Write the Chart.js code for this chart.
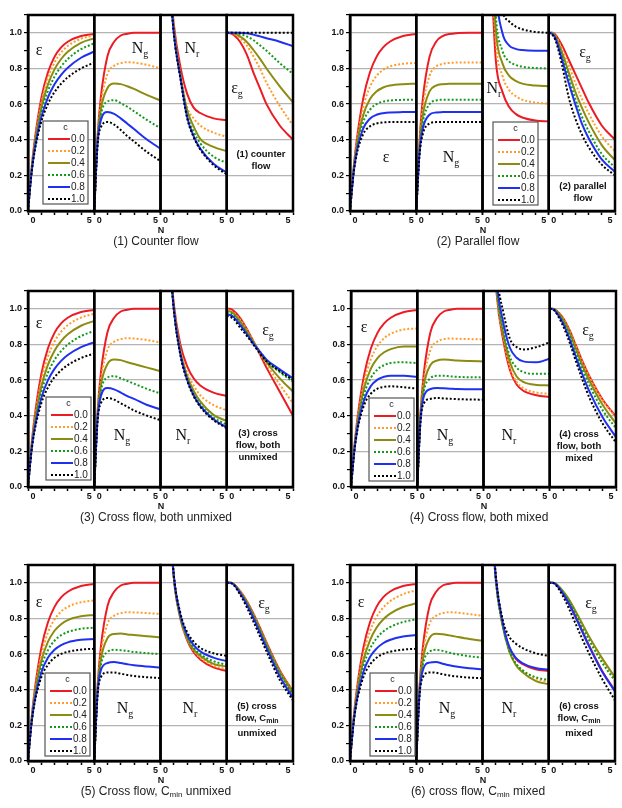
<!DOCTYPE html>
<html>
<head>
<meta charset="utf-8">
<title>Effectiveness and entropy generation numbers vs N</title>
<script src="https://cdn.jsdelivr.net/npm/chart.js@4.4.1/dist/chart.umd.min.js"></script>
<style>
  body { margin: 0; background: #fff; width: 622px; height: 808px; position: relative; overflow: hidden;
         font-family: "Liberation Sans", Arial, sans-serif; color: #111; }
  .panel { position: absolute; width: 300px; height: 232px; }
  .lab { position: absolute; transform: translate(-50%, -50%); white-space: nowrap; }
  .sym { font-family: "Liberation Serif", "Times New Roman", serif; font-size: 16px; }
  .sym sub { font-size: 10px; vertical-align: -4px; }
  .note { font-weight: bold; font-size: 9.5px; line-height: 12px; text-align: center; }
  .note sub { font-size: 7px; vertical-align: -2px; }
  .nlab { font-weight: bold; font-size: 9px; }
  .cap { font-size: 12px; color: #222; }
  .cap sub { font-size: 8px; vertical-align: -2px; }
</style>
</head>
<body>
<script>
const N = [0, 0.25, 0.5, 1, 1.5, 2, 2.5, 3, 4, 5];
const cLabels = ['0.0', '0.2', '0.4', '0.6', '0.8', '1.0'];

// (1) counter flow
const counterEps = [
  [0, .221, .393, .632, .777, .865, .918, .950, .982, .993],
  [0, .217, .381, .605, .744, .832, .889, .926, .967, .985],
  [0, .212, .368, .578, .709, .795, .853, .894, .944, .969],
  [0, .208, .356, .552, .673, .754, .811, .853, .908, .941],
  [0, .204, .345, .526, .636, .711, .764, .804, .860, .895],
  [0, .200, .333, .500, .600, .667, .714, .750, .800, .833]];
const counterNg = [
  [0, .42, .64, .87, .95, .985, .995, 1, 1, 1],
  [0, .41, .60, .77, .815, .83, .835, .833, .82, .80],
  [0, .40, .57, .69, .715, .712, .70, .685, .65, .62],
  [0, .39, .54, .615, .622, .605, .585, .56, .51, .465],
  [0, .38, .51, .555, .545, .52, .49, .46, .40, .35],
  [0, .37, .47, .50, .485, .455, .42, .39, .33, .28]];
const counterNr = [
  [null, null, 1.5, 1.05, .81, .66, .58, .55, .52, .51],
  [null, null, 1.5, 1.03, .77, .585, .52, .48, .44, .417],
  [null, null, 1.5, 1.02, .76, .57, .475, .405, .36, .336],
  [null, null, 1.5, 1.01, .755, .545, .445, .38, .305, .27],
  [null, null, 1.5, 1.00, .75, .53, .42, .35, .265, .215],
  [null, null, 1.5, 1.00, .745, .525, .415, .345, .258, .205]];
const counterEg = [
  [1, .998, .99, .95, .88, .78, .69, .60, .48, .40],
  [1, 1, .995, .97, .93, .87, .80, .72, .59, .48],
  [1, 1, .997, .98, .95, .905, .855, .80, .70, .61],
  [1, 1, 1, .993, .98, .96, .93, .90, .83, .77],
  [1, 1, 1, 1, .997, .99, .98, .97, .95, .925],
  [1, 1, 1, 1, 1, 1, 1, 1, 1, 1]];

// (2) parallel flow
const parallelEps = [
  [0, .221, .393, .632, .777, .865, .918, .950, .982, .993],
  [0, .216, .376, .582, .696, .758, .792, .811, .826, .831],
  [0, .211, .360, .538, .627, .671, .693, .704, .712, .714],
  [0, .206, .344, .499, .568, .600, .614, .620, .624, .625],
  [0, .201, .330, .464, .518, .540, .549, .553, .555, .556],
  [0, .197, .316, .432, .475, .491, .497, .499, .500, .500]];
const parallelNg = [
  [0, .393, .632, .865, .950, .982, .993, .998, 1, 1],
  [0, .376, .582, .758, .811, .826, .831, .833, .833, .833],
  [0, .360, .538, .671, .704, .712, .714, .714, .714, .714],
  [0, .344, .499, .600, .620, .625, .625, .625, .625, .625],
  [0, .330, .464, .540, .553, .555, .556, .556, .556, .556],
  [0, .316, .432, .491, .499, .500, .500, .500, .500, .500]];
const parallelNr = [
  [null, null, 1.6, .85, .67, .585, .545, .525, .508, .503],
  [null, null, 1.7, .95, .76, .68, .645, .625, .608, .602],
  [null, null, 1.8, 1.02, .83, .76, .73, .715, .704, .70],
  [null, null, 1.9, 1.1, .90, .84, .82, .81, .802, .80],
  [null, null, 2.1, 1.25, 1.0, .93, .91, .903, .90, .90],
  [null, null, 2.4, 1.5, 1.13, 1.065, 1.035, 1.02, 1.005, 1.0]];
const parallelEg = [
  [1, 1, .99, .93, .85, .77, .69, .61, .48, .40],
  [1, 1, .985, .91, .82, .72, .63, .55, .42, .335],
  [1, 1, .98, .89, .78, .67, .58, .50, .37, .285],
  [1, .995, .975, .87, .75, .63, .53, .45, .32, .245],
  [1, .995, .97, .85, .72, .60, .49, .41, .29, .22],
  [1, .99, .96, .82, .64, .52, .43, .36, .26, .20]];

// (3) cross flow, both unmixed
const crossUnmixedEps = [
  [0, .221, .393, .632, .777, .865, .918, .950, .982, .993],
  [0, .215, .376, .596, .731, .816, .872, .908, .951, .972],
  [0, .208, .360, .561, .685, .765, .819, .857, .905, .932],
  [0, .202, .344, .529, .640, .713, .763, .799, .847, .876],
  [0, .197, .330, .498, .598, .663, .708, .741, .785, .813],
  [0, .191, .315, .469, .558, .616, .655, .684, .724, .749]];
const crossUnmixedNg = [
  [0, .42, .64, .87, .95, .985, .995, 1, 1, 1],
  [0, .41, .60, .77, .815, .83, .835, .833, .825, .81],
  [0, .40, .57, .69, .715, .712, .70, .69, .67, .65],
  [0, .39, .54, .615, .622, .61, .595, .58, .55, .525],
  [0, .38, .51, .555, .548, .53, .51, .495, .46, .435],
  [0, .37, .47, .50, .49, .47, .45, .43, .40, .375]];
const crossUnmixedNr = [
  [null, null, 1.5, 1.03, .80, .68, .61, .57, .53, .51],
  [null, null, 1.5, 1.02, .775, .645, .57, .515, .46, .43],
  [null, null, 1.5, 1.01, .76, .625, .54, .48, .405, .37],
  [null, null, 1.5, 1.0, .75, .61, .525, .465, .39, .35],
  [null, null, 1.5, 1.0, .745, .605, .515, .455, .38, .335],
  [null, null, 1.5, 1.0, .74, .60, .51, .45, .375, .33]];
const crossUnmixedEg = [
  [1, 1, .99, .95, .89, .82, .745, .67, .535, .40],
  [.995, .99, .98, .94, .885, .82, .75, .69, .575, .47],
  [.99, .985, .975, .93, .875, .815, .755, .70, .61, .535],
  [.98, .975, .965, .92, .865, .81, .76, .71, .645, .59],
  [.97, .965, .955, .91, .86, .805, .76, .715, .66, .61],
  [.96, .955, .945, .895, .85, .80, .75, .705, .65, .60]];

// (4) cross flow, both mixed
const crossMixedEps = [
  [0, .221, .393, .632, .777, .865, .918, .950, .982, .993],
  [0, .216, .378, .593, .718, .792, .835, .860, .884, .890],
  [0, .212, .364, .557, .664, .723, .756, .774, .788, .788],
  [0, .207, .350, .523, .613, .660, .684, .696, .700, .695],
  [0, .203, .337, .492, .567, .603, .619, .625, .624, .617],
  [0, .198, .325, .462, .524, .552, .562, .565, .560, .552]];
const crossMixedNg = [
  [0, .42, .64, .87, .95, .985, .995, 1, 1, 1],
  [0, .41, .60, .77, .815, .83, .833, .832, .83, .828],
  [0, .40, .57, .685, .71, .715, .713, .71, .707, .705],
  [0, .39, .54, .61, .624, .624, .621, .618, .616, .615],
  [0, .38, .51, .55, .556, .554, .552, .55, .549, .548],
  [0, .37, .47, .495, .50, .497, .495, .493, .491, .49]];
const crossMixedNr = [
  [null, null, 1.7, 1.08, .82, .655, .575, .54, .515, .505],
  [null, null, 1.7, 1.09, .84, .67, .59, .555, .53, .523],
  [null, null, 1.7, 1.10, .86, .70, .62, .59, .573, .57],
  [null, null, 1.7, 1.12, .88, .73, .67, .645, .635, .635],
  [null, null, 1.75, 1.15, .92, .78, .725, .705, .70, .72],
  [null, null, 1.8, 1.2, .98, .83, .785, .772, .785, .813]];
const crossMixedEg = [
  [1, 1, .99, .95, .88, .79, .70, .62, .49, .395],
  [1, 1, .99, .948, .875, .785, .695, .615, .485, .39],
  [1, 1, .988, .94, .865, .77, .675, .595, .46, .355],
  [1, 1, .985, .93, .85, .75, .655, .57, .43, .33],
  [1, .998, .98, .92, .83, .725, .625, .535, .39, .28],
  [1, .997, .975, .905, .81, .70, .595, .50, .355, .25]];

// (5) cross flow, Cmin unmixed
const cminUnmixedEps = [
  [0, .221, .393, .632, .777, .865, .918, .950, .982, .993],
  [0, .216, .379, .594, .720, .794, .839, .865, .891, .901],
  [0, .212, .364, .559, .668, .731, .768, .791, .812, .820],
  [0, .207, .351, .526, .621, .675, .706, .724, .742, .748],
  [0, .203, .338, .496, .579, .624, .650, .666, .680, .685],
  [0, .199, .325, .469, .540, .579, .601, .613, .625, .630]];
const cminUnmixedNg = [
  [0, .42, .64, .87, .95, .985, .995, 1, 1, 1],
  [0, .41, .60, .77, .815, .83, .835, .834, .83, .825],
  [0, .40, .57, .69, .713, .715, .71, .707, .70, .695],
  [0, .39, .54, .612, .624, .622, .617, .612, .605, .60],
  [0, .38, .51, .55, .555, .55, .543, .537, .53, .525],
  [0, .37, .47, .497, .497, .49, .483, .477, .47, .465]];
const cminUnmixedNr = [
  [null, null, 1.6, 1.03, .80, .68, .61, .57, .525, .505],
  [null, null, 1.6, 1.03, .80, .685, .62, .58, .535, .515],
  [null, null, 1.6, 1.035, .805, .69, .625, .59, .545, .53],
  [null, null, 1.6, 1.04, .81, .70, .635, .60, .56, .54],
  [null, null, 1.6, 1.045, .82, .71, .65, .615, .58, .56],
  [null, null, 1.6, 1.05, .83, .725, .67, .635, .605, .59]];
const cminUnmixedEg = [
  [1, 1, .995, .955, .90, .83, .75, .665, .51, .39],
  [1, 1, .995, .953, .897, .826, .745, .66, .505, .388],
  [1, 1, .994, .95, .893, .82, .74, .655, .50, .38],
  [1, 1, .993, .947, .888, .815, .733, .648, .49, .37],
  [1, 1, .992, .943, .88, .805, .72, .635, .475, .355],
  [1, .999, .99, .935, .865, .785, .70, .615, .455, .34]];

// (6) cross flow, Cmin mixed
const cminMixedEps = [
  [0, .221, .393, .632, .777, .865, .918, .950, .982, .993],
  [0, .217, .379, .596, .726, .808, .860, .895, .936, .958],
  [0, .212, .365, .561, .676, .748, .794, .826, .864, .885],
  [0, .207, .351, .529, .628, .688, .726, .751, .780, .795],
  [0, .203, .338, .498, .583, .631, .661, .679, .699, .707],
  [0, .199, .325, .469, .540, .579, .601, .613, .625, .630]];
const cminMixedNg = [
  [0, .42, .64, .87, .95, .985, .995, 1, 1, 1],
  [0, .41, .60, .77, .815, .83, .835, .833, .825, .815],
  [0, .40, .57, .69, .714, .712, .705, .698, .685, .675],
  [0, .39, .54, .613, .624, .618, .608, .60, .588, .58],
  [0, .38, .51, .552, .555, .546, .537, .53, .52, .515],
  [0, .37, .47, .497, .495, .487, .48, .475, .468, .465]];
const cminMixedNr = [
  [null, null, 1.6, 1.03, .78, .64, .575, .545, .515, .505],
  [null, null, 1.6, 1.02, .77, .625, .55, .51, .465, .44],
  [null, null, 1.6, 1.02, .765, .62, .54, .50, .45, .43],
  [null, null, 1.6, 1.02, .77, .625, .55, .51, .47, .455],
  [null, null, 1.6, 1.03, .785, .645, .58, .55, .522, .513],
  [null, null, 1.6, 1.05, .80, .70, .66, .635, .605, .59]];
const cminMixedEg = [
  [1, 1, .995, .95, .89, .815, .735, .655, .51, .395],
  [1, 1, .996, .957, .905, .84, .77, .70, .57, .465],
  [1, 1, .997, .96, .91, .845, .775, .705, .58, .47],
  [1, 1, .995, .955, .90, .83, .755, .685, .555, .45],
  [1, 1, .994, .948, .885, .81, .73, .65, .505, .39],
  [1, 1, .99, .935, .86, .775, .69, .61, .465, .34]];

// line look for c = 0.0 ... 1.0
const lineStyles = [
  { color: '#ec1c24', dash: [] },
  { color: '#ff9c2a', dash: [2, 2] },
  { color: '#8c8c12', dash: [] },
  { color: '#139a1c', dash: [2, 2] },
  { color: '#1f30f0', dash: [] },
  { color: '#000000', dash: [2, 2] }
];
const FONT = "'Liberation Sans', Arial, sans-serif";

// plot area of each panel (page pixels), legend offset inside the plot area, labels
const panels = [
  { left: 28, top: 15, series: [counterEps, counterNg, counterNr, counterEg], legend: { x: 15, y: 106 },
    caption: '(1) Counter flow', note: '(1) counter<br>flow',
    labels: { eps: [39, 50], ng: [140, 49], nr: [192, 49], eg: [237, 89], note: [261, 160] } },
  { left: 350, top: 15, series: [parallelEps, parallelNg, parallelNr, parallelEg], legend: { x: 143, y: 107 },
    caption: '(2) Parallel flow', note: '(2) parallel<br>flow',
    labels: { eps: [386, 157], ng: [451, 158], nr: [494, 89], eg: [585, 53], note: [583, 192] } },
  { left: 28, top: 291, series: [crossUnmixedEps, crossUnmixedNg, crossUnmixedNr, crossUnmixedEg], legend: { x: 18, y: 106 },
    caption: '(3) Cross flow, both unmixed', note: '(3) cross<br>flow, both<br>unmixed',
    labels: { eps: [39, 323], ng: [122, 436], nr: [183, 436], eg: [268, 331], note: [258, 445] } },
  { left: 351, top: 291, series: [crossMixedEps, crossMixedNg, crossMixedNr, crossMixedEg], legend: { x: 18, y: 107 },
    caption: '(4) Cross flow, both mixed', note: '(4) cross<br>flow, both<br>mixed',
    labels: { eps: [364, 327], ng: [445, 436], nr: [509, 436], eg: [588, 331], note: [579, 446] } },
  { left: 28, top: 565, series: [cminUnmixedEps, cminUnmixedNg, cminUnmixedNr, cminUnmixedEg], legend: { x: 17, y: 108 },
    caption: '(5) Cross flow, C<sub>min</sub> unmixed', note: '(5) cross<br>flow, C<sub>min</sub><br>unmixed',
    labels: { eps: [39, 602], ng: [125, 709], nr: [190, 709], eg: [264, 604], note: [257, 719] } },
  { left: 350, top: 565, series: [cminMixedEps, cminMixedNg, cminMixedNr, cminMixedEg], legend: { x: 20, y: 108 },
    caption: '(6) cross flow, C<sub>min</sub> mixed', note: '(6) cross<br>flow, C<sub>min</sub><br>mixed',
    labels: { eps: [361, 602], ng: [447, 709], nr: [509, 709], eg: [591, 604], note: [579, 719] } }
];

// frame around every sub-panel + the c legend box
const framePlugin = {
  id: 'frame',
  afterDatasetsDraw(chart, args, opts) {
    const ctx = chart.ctx, a = chart.chartArea;
    ctx.save();
    ctx.strokeStyle = '#000';
    ctx.lineWidth = 2.5;
    for (let s = 0; s < 4; s++) {
      const sc = chart.scales['x' + s];
      ctx.strokeRect(sc.left, a.top, sc.right - sc.left, a.bottom - a.top);
    }
    // legend
    const bx = a.left + opts.legend.x, by = a.top + opts.legend.y, bw = 45, bh = 83;
    ctx.fillStyle = '#fff';
    ctx.fillRect(bx, by, bw, bh);
    ctx.strokeStyle = '#555';
    ctx.lineWidth = 1.2;
    ctx.strokeRect(bx, by, bw, bh);
    ctx.fillStyle = '#222';
    ctx.font = '9px ' + FONT;
    ctx.textAlign = 'center';
    ctx.textBaseline = 'middle';
    ctx.fillText('c', bx + bw / 2, by + 7);
    chart.data.datasets.slice(0, 6).forEach((ds, i) => {
      const y = by + 18 + i * 12;
      ctx.strokeStyle = ds.borderColor;
      ctx.lineWidth = ds.borderWidth;
      ctx.setLineDash(ds.borderDash);
      ctx.beginPath();
      ctx.moveTo(bx + 5, y);
      ctx.lineTo(bx + 27, y);
      ctx.stroke();
      ctx.setLineDash([]);
      ctx.textAlign = 'left';
      ctx.font = '10px ' + FONT;
      ctx.fillText(ds.label, bx + 28, y + 0.5);
    });
    ctx.restore();
  }
};

function addLabel(x, y, html, cls) {
  const d = document.createElement('div');
  d.className = 'lab ' + cls;
  d.style.left = x + 'px';
  d.style.top = y + 'px';
  d.innerHTML = html;
  document.body.appendChild(d);
}

function makePanel(p) {
  const wrap = document.createElement('div');
  wrap.className = 'panel';
  wrap.style.left = (p.left - 28) + 'px';
  wrap.style.top = (p.top - 8) + 'px';
  const cv = document.createElement('canvas');
  cv.width = 300;
  cv.height = 232;
  wrap.appendChild(cv);
  document.body.appendChild(wrap);

  const datasets = [];
  p.series.forEach((tbl, s) => {
    tbl.forEach((row, i) => {
      datasets.push({
        label: cLabels[i],
        xAxisID: 'x' + s,
        data: N.map((n, k) => ({ x: n, y: row[k] })).filter(d => d.y !== null),
        borderColor: lineStyles[i].color,
        borderDash: lineStyles[i].dash,
        borderWidth: 2,
        pointRadius: 0,
        fill: false,
        cubicInterpolationMode: 'monotone',
        order: 5 - i
      });
    });
  });

  const scales = {
    y: {
      min: 0, max: 1.1,
      afterFit: sc => { sc.width = 28; },
      ticks: {
        stepSize: 0.1, autoSkip: false, padding: 2, color: '#111',
        font: { family: FONT, size: 9, weight: 'bold' },
        callback: v => { const t = Math.round(v * 10); return (t % 2 === 0 && t <= 10) ? (t / 10).toFixed(1) : ''; }
      },
      grid: {
        color: c => { const t = c.tick ? Math.round(c.tick.value * 10) : 1; return (t % 2 === 0 && t > 0 && t <= 10) ? '#b4b4b4' : 'rgba(0,0,0,0)'; },
        lineWidth: 1.2, drawTicks: true, tickLength: 4, tickColor: '#000', tickWidth: 1.2
      },
      border: { display: true, color: '#000', width: 2.5 }
    }
  };
  for (let s = 0; s < 4; s++) {
    scales['x' + s] = {
      type: 'linear', position: 'bottom', stack: 'n', stackWeight: 1,
      min: 0, max: 5, offset: false,
      afterFit: sc => { sc.height = 28; },
      ticks: {
        stepSize: 1, autoSkip: false, maxRotation: 0, align: 'inner', padding: 0, color: '#111',
        font: { family: FONT, size: 9, weight: 'bold' },
        callback: v => v === 0 ? ' 0' : (v === 5 ? '5 ' : '')
      },
      grid: { drawOnChartArea: false, drawTicks: true, tickLength: 4, tickWidth: 1.5, tickColor: '#000' },
      border: { display: true, color: '#000', width: 2.5 }
    };
  }

  new Chart(cv, {
    type: 'line',
    data: { datasets },
    options: {
      responsive: false,
      animation: false,
      layout: { padding: { top: 8, right: 7, left: 0, bottom: 0 } },
      scales,
      plugins: {
        legend: { display: false },
        tooltip: { enabled: false },
        frame: { legend: p.legend }
      }
    },
    plugins: [framePlugin]
  });

  const L = p.labels;
  addLabel(L.eps[0], L.eps[1], '&epsilon;', 'sym');
  addLabel(L.ng[0], L.ng[1], 'N<sub>g</sub>', 'sym');
  addLabel(L.nr[0], L.nr[1], 'N<sub>r</sub>', 'sym');
  addLabel(L.eg[0], L.eg[1], '&epsilon;<sub>g</sub>', 'sym');
  addLabel(L.note[0], L.note[1], p.note, 'note');
  addLabel(p.left + 133, p.top + 215, 'N', 'nlab');
  addLabel(p.left + 128, p.top + 226, p.caption, 'cap');
}

panels.forEach(makePanel);
</script>
</body>
</html>
